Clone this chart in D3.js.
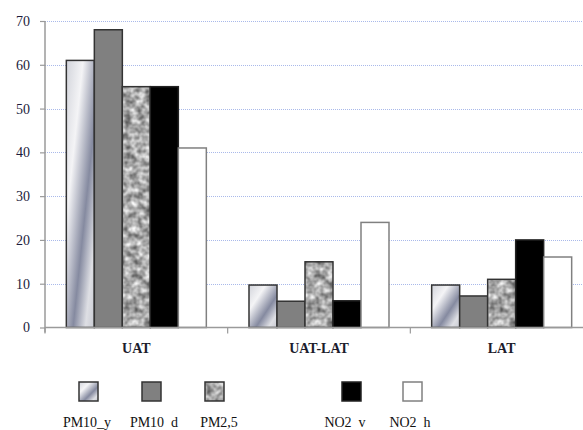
<!DOCTYPE html>
<html>
<head>
<meta charset="utf-8">
<script src="https://cdn.jsdelivr.net/npm/d3@7"></script>
<style>
  html, body { margin: 0; padding: 0; background: #fff; }
  svg { display: block; }
  text { font-family: "Liberation Serif", "Times New Roman", "DejaVu Serif", serif; }
</style>
</head>
<body>
<svg id="chart" width="583" height="430"></svg>
<script>
// Zone classes on the x axis
const categories = ["UAT", "UAT-LAT", "LAT"];
// Pollutant series, in drawing order
const seriesNames = ["PM10_y", "PM10_d", "PM2,5", "NO2_v", "NO2_h"];
const legendLabels = ["PM10_y", "PM10  d", "PM2,5", "NO2  v", "NO2  h"];
// Values per series, one entry per zone class
const pm10y = [61, 9.7, 9.7];
const pm10d = [68, 6, 7.2];
const pm25 = [55, 15, 11];
const no2v = [55, 6.1, 20];
const no2h = [41, 24, 16.1];
const seriesValues = [pm10y, pm10d, pm25, no2v, no2h];
const yTicks = [0, 10, 20, 30, 40, 50, 60, 70];

const svg = d3.select("#chart");
const defs = svg.append("defs");

// Metallic diagonal gradient for PM10_y
const grad = defs.append("linearGradient")
  .attr("id", "metal").attr("x1", 0).attr("y1", 0).attr("x2", 1).attr("y2", 1);
[[0, "#d2d4db"], [0.3, "#f4f4f6"], [0.62, "#858aa0"], [0.84, "#dedfe4"], [1, "#c8cad2"]]
  .forEach(([o, c]) => grad.append("stop").attr("offset", o).attr("stop-color", c));

// Mottled granite texture for PM2,5
const filt = defs.append("filter").attr("id", "granite")
  .attr("x", 0).attr("y", 0).attr("width", 1).attr("height", 1)
  .attr("color-interpolation-filters", "sRGB");
filt.append("feTurbulence").attr("type", "fractalNoise")
  .attr("baseFrequency", 0.15).attr("numOctaves", 2).attr("seed", 11).attr("result", "n");
filt.append("feColorMatrix").attr("in", "n").attr("type", "matrix")
  .attr("values", "0.9 0 0 0 0.22  0.9 0 0 0 0.22  0.9 0 0 0 0.22  0 0 0 0 1");

const fills = ["url(#metal)", "#808080", null, "#000000", "#ffffff"];
const strokes = ["#333", "#333", "#333", "#222", "#808080"];

const plotLeft = 45, plotRight = 593, plotTop = 21, plotBottom = 327.5;
const y = d3.scaleLinear().domain([0, 70]).range([plotBottom, plotTop]);
const x0 = d3.scaleBand().domain(categories).range([plotLeft, plotRight]).paddingInner(0).paddingOuter(0);
const x1 = d3.scaleBand().domain(seriesNames).range([0, x0.bandwidth()])
  .paddingInner(0).paddingOuter(0.762);

// Dotted gridlines
svg.append("g").selectAll("line").data(yTicks.filter(d => d > 0)).join("line")
  .attr("x1", plotLeft).attr("x2", 583)
  .attr("y1", d => Math.round(y(d)) + 0.5).attr("y2", d => Math.round(y(d)) + 0.5)
  .attr("stroke", "#a9b9ea").attr("stroke-width", 1).attr("stroke-dasharray", "1,1");

// Bars
const groups = svg.append("g").selectAll("g").data(categories).join("g")
  .attr("transform", d => `translate(${x0(d)},0)`);

groups.each(function (cat, ci) {
  const g = d3.select(this);
  seriesNames.forEach((s, si) => {
    const v = seriesValues[si][ci];
    const bx = x1(s), bw = x1.bandwidth(), by = y(v), bh = y(0) - y(v);
    if (fills[si]) {
      g.append("rect").attr("x", bx).attr("y", by).attr("width", bw).attr("height", bh)
        .attr("fill", fills[si]).attr("stroke", strokes[si]).attr("stroke-width", 1.5);
    } else {
      g.append("rect").attr("x", bx).attr("y", by).attr("width", bw).attr("height", bh)
        .attr("filter", "url(#granite)").attr("fill", "#999");
      g.append("rect").attr("x", bx).attr("y", by).attr("width", bw).attr("height", bh)
        .attr("fill", "none").attr("stroke", strokes[si]).attr("stroke-width", 1.5);
    }
  });
});

// Y axis
const yAxis = svg.append("g").attr("transform", `translate(${plotLeft},0)`)
  .call(d3.axisLeft(y).tickValues(yTicks).tickSize(5).tickPadding(10).tickSizeOuter(0));
yAxis.attr("font-family", null);
yAxis.select(".domain").attr("stroke", "#9a9a9a").attr("stroke-width", 1.5)
  .attr("d", `M0,${plotTop}V${plotBottom + 5}`);
yAxis.selectAll(".tick line").attr("stroke", "#9a9a9a").attr("stroke-width", 1.2);
yAxis.selectAll(".tick text").attr("fill", "#1c1c3c").style("font-size", "14px");

// X axis
const xAxis = svg.append("g").attr("transform", `translate(0,${plotBottom})`);
xAxis.append("line").attr("x1", plotLeft).attr("x2", 583).attr("y1", 0).attr("y2", 0)
  .attr("stroke", "#9a9a9a").attr("stroke-width", 1.5);
const bounds = [plotLeft].concat(categories.map(c => x0(c) + x0.bandwidth())).filter(v => v < 583);
xAxis.selectAll("line.tk").data(bounds).join("line").attr("class", "tk")
  .attr("x1", d => d).attr("x2", d => d).attr("y1", 0).attr("y2", 6)
  .attr("stroke", "#9a9a9a").attr("stroke-width", 1.2);
xAxis.selectAll("text").data(categories).join("text")
  .attr("x", d => x0(d) + x0.bandwidth() / 2).attr("y", 25.5)
  .attr("text-anchor", "middle")
  .style("font-size", "14px")
  .style("font-weight", "bold").attr("fill", "#1c1c2c")
  .text(d => d);

// Legend
const legendX = [79, 142, 205, 342, 403];
const legendTextX = [87, 154, 219, 345, 410];
const lg = svg.append("g");
seriesNames.forEach((s, i) => {
  if (fills[i]) {
    lg.append("rect").attr("x", legendX[i]).attr("y", 382).attr("width", 19).attr("height", 19)
      .attr("fill", fills[i]).attr("stroke", strokes[i]).attr("stroke-width", 1.5);
  } else {
    lg.append("rect").attr("x", legendX[i]).attr("y", 382).attr("width", 19).attr("height", 19)
      .attr("filter", "url(#granite)").attr("fill", "#999");
    lg.append("rect").attr("x", legendX[i]).attr("y", 382).attr("width", 19).attr("height", 19)
      .attr("fill", "none").attr("stroke", strokes[i]).attr("stroke-width", 1.5);
  }
  lg.append("text").attr("x", legendTextX[i]).attr("y", 427)
    .attr("text-anchor", "middle").attr("xml:space", "preserve")
    .style("white-space", "pre")
    .style("font-size", "14px")
    .attr("fill", "#111").text(legendLabels[i]);
});
</script>
</body>
</html>
